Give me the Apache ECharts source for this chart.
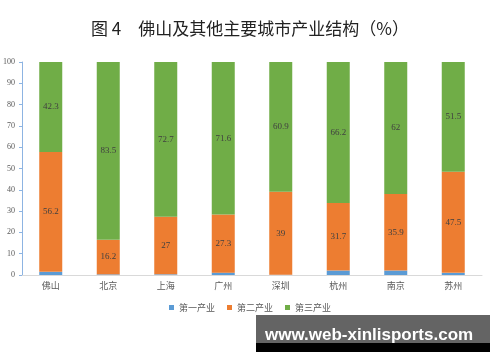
<!DOCTYPE html>
<html><head><meta charset="utf-8">
<script src="https://cdn.jsdelivr.net/npm/echarts@6/dist/echarts.min.js"></script>
<style>html,body{margin:0;padding:0;background:#fff}#c{width:500px;height:362px}</style>
</head><body><div id="c"></div>
<script>
const categories = ['佛山','北京','上海','广州','深圳','杭州','南京','苏州'];
const primary = [1.5, 0.3, 0.3, 1.1, 0.1, 2.1, 2.1, 1.0];
const secondary = [56.2, 16.2, 27, 27.3, 39, 31.7, 35.9, 47.5];
const tertiary = [42.3, 83.5, 72.7, 71.6, 60.9, 66.2, 62, 51.5];
const yTicks = [0,10,20,30,40,50,60,70,80,90,100];
const seriesNames = ['第一产业','第二产业','第三产业'];

const chart = echarts.init(document.getElementById('c'), null, {renderer:'canvas'});
const labelStyle = {show:true, position:'inside', color:'#404040', fontSize:9, fontFamily:'Liberation Serif'};
chart.setOption({
  animation:false,
  title:{text:'图 4　佛山及其他主要城市产业结构（%）', left:'center', top:15,
    textStyle:{fontSize:17, fontWeight:'normal', color:'#222', fontFamily:'Noto Sans CJK SC'}},
  grid:{left:21, right:18, top:62, bottom:87},
  legend:{bottom:45, left:'center', itemWidth:5, itemHeight:5, itemGap:12, icon:'rect',
    textStyle:{fontSize:9, color:'#595959', fontFamily:'Noto Sans CJK SC'},
    data:seriesNames},
  xAxis:{type:'category', data:categories,
    axisLine:{lineStyle:{color:'#d9d9d9'}}, axisTick:{show:false},
    axisLabel:{color:'#595959', fontSize:9, fontFamily:'Noto Sans CJK SC', margin:6}},
  yAxis:{type:'value', min:yTicks[0], max:yTicks[yTicks.length-1], interval:10,
    axisLine:{show:true, lineStyle:{color:'#8db4e2'}},
    axisTick:{show:true, length:3, lineStyle:{color:'#8db4e2'}},
    splitLine:{show:false},
    axisLabel:{color:'#595959', fontSize:8, fontFamily:'Liberation Serif', margin:7}},
  series:[
    {name:seriesNames[0], type:'bar', stack:'s', data:primary, barWidth:'40%', itemStyle:{color:'#5b9bd5'}},
    {name:seriesNames[1], type:'bar', stack:'s', data:secondary, itemStyle:{color:'#ed7d31'}, label:labelStyle},
    {name:seriesNames[2], type:'bar', stack:'s', data:tertiary, itemStyle:{color:'#70ad47'}, label:labelStyle}
  ],
  graphic:[
    {type:'rect', left:256, top:315, shape:{width:234, height:28}, style:{fill:'#646464'}},
    {type:'rect', left:256, top:343, shape:{width:234, height:9}, style:{fill:'#000'}},
    {type:'text', left:265, top:327, style:{text:'www.web-xinlisports.com', fill:'#fff',
      font:'bold 17px "Liberation Sans"'}}
  ]
});
</script></body></html>
